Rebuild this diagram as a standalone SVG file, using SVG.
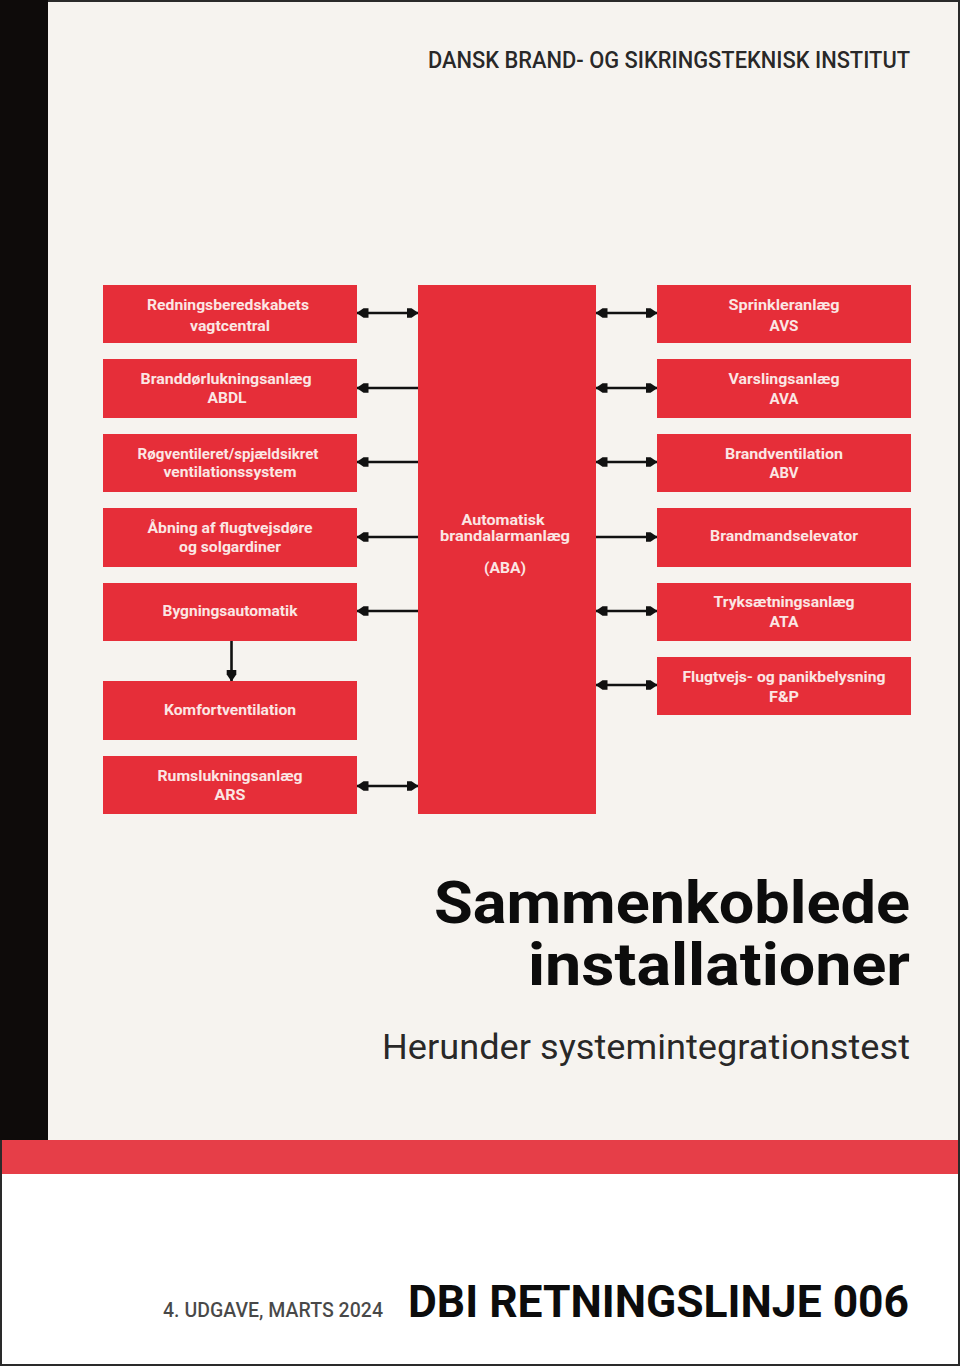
<svg xmlns="http://www.w3.org/2000/svg" width="960" height="1366" viewBox="0 0 960 1366">
<defs>
<marker id="ah" viewBox="0 0 12 12" refX="11.5" refY="6" markerWidth="12" markerHeight="12" markerUnits="userSpaceOnUse" orient="auto-start-reverse"><path d="M0 1.2L5 1.2L12 6L5 10.8L0 10.8Z" fill="#111"/></marker>
</defs>
<style>
.n{fill:#e62e39}
.l{font:700 14px Roboto,"Liberation Sans",sans-serif;fill:#fbe6e4;text-anchor:middle}
.c{fill:none;stroke:#111;stroke-width:2.6}
.b{marker-start:url(#ah);marker-end:url(#ah)}
.e{marker-end:url(#ah)}
.h{font-family:Roboto,"Liberation Sans",sans-serif;text-anchor:end;fill:#0c0c0c}
</style>
<rect width="960" height="1366" fill="#2a2a2a"/>
<rect x="2" y="2" width="956" height="1362" fill="#fff"/>
<rect x="48" y="2" width="910" height="1138" fill="#f6f3ef"/>
<rect x="0" y="0" width="48" height="1140" fill="#0e0b0a"/>
<rect x="2" y="1140" width="956" height="34" fill="#e63e48"/>
<text class="h" x="910" y="68" font-size="23" font-weight="500" textLength="482" lengthAdjust="spacingAndGlyphs" fill-opacity="0.9">DANSK BRAND- OG SIKRINGSTEKNISK INSTITUT</text>
<text class="h" font-size="60" font-weight="700"><tspan x="910" y="923" textLength="476" lengthAdjust="spacingAndGlyphs">Sammenkoblede</tspan><tspan x="910" y="985" textLength="382" lengthAdjust="spacingAndGlyphs">installationer</tspan></text>
<text class="h" x="910" y="1059" font-size="35" font-weight="400" textLength="528" lengthAdjust="spacingAndGlyphs" fill-opacity="0.9">Herunder systemintegrationstest</text>
<text class="h" x="383" y="1317" font-size="20" font-weight="500" textLength="220" lengthAdjust="spacingAndGlyphs" fill-opacity="0.75">4. UDGAVE, MARTS 2024</text>
<text class="h" x="909" y="1317" font-size="44" font-weight="700" textLength="501" lengthAdjust="spacingAndGlyphs">DBI RETNINGSLINJE 006</text>
<g id="connectors">
<path class="c b" d="M357 313H418"/>
<path class="c e" d="M418 388H357"/>
<path class="c e" d="M418 462H357"/>
<path class="c e" d="M418 537H357"/>
<path class="c e" d="M418 611H357"/>
<path class="c e" d="M231.500 641V681"/>
<path class="c b" d="M357 786H418"/>
<path class="c b" d="M596 313H657"/>
<path class="c b" d="M596 388H657"/>
<path class="c b" d="M596 462H657"/>
<path class="c e" d="M596 537H657"/>
<path class="c b" d="M596 611H657"/>
<path class="c b" d="M596 685H657"/>
</g>
<g id="n-rednings"><rect class="n" x="103" y="285" width="254" height="58"/><text class="l" x="228" y="310" textLength="162" lengthAdjust="spacingAndGlyphs">Redningsberedskabets</text><text class="l" x="230" y="331" textLength="80" lengthAdjust="spacingAndGlyphs">vagtcentral</text></g>
<g id="n-abdl"><rect class="n" x="103" y="359" width="254" height="59"/><text class="l" x="226" y="384" textLength="171" lengthAdjust="spacingAndGlyphs">Branddørlukningsanlæg</text><text class="l" x="227" y="403" textLength="39" lengthAdjust="spacingAndGlyphs">ABDL</text></g>
<g id="n-roeg"><rect class="n" x="103" y="434" width="254" height="58"/><text class="l" x="228" y="459" textLength="181" lengthAdjust="spacingAndGlyphs">Røgventileret/spjældsikret</text><text class="l" x="230" y="477" textLength="133" lengthAdjust="spacingAndGlyphs">ventilationssystem</text></g>
<g id="n-aabning"><rect class="n" x="103" y="508" width="254" height="59"/><text class="l" x="230" y="533" textLength="165" lengthAdjust="spacingAndGlyphs">Åbning af flugtvejsdøre</text><text class="l" x="230" y="552" textLength="102" lengthAdjust="spacingAndGlyphs">og solgardiner</text></g>
<g id="n-bygning"><rect class="n" x="103" y="583" width="254" height="58"/><text class="l" x="230" y="616" textLength="135" lengthAdjust="spacingAndGlyphs">Bygningsautomatik</text></g>
<g id="n-komfort"><rect class="n" x="103" y="681" width="254" height="59"/><text class="l" x="230" y="715" textLength="132" lengthAdjust="spacingAndGlyphs">Komfortventilation</text></g>
<g id="n-ars"><rect class="n" x="103" y="756" width="254" height="58"/><text class="l" x="230" y="781" textLength="145" lengthAdjust="spacingAndGlyphs">Rumslukningsanlæg</text><text class="l" x="230" y="800" textLength="31" lengthAdjust="spacingAndGlyphs">ARS</text></g>
<g id="n-aba"><rect class="n" x="418" y="285" width="178" height="529"/><text class="l" x="503" y="525" textLength="83" lengthAdjust="spacingAndGlyphs">Automatisk</text><text class="l" x="505" y="541" textLength="130" lengthAdjust="spacingAndGlyphs">brandalarmanlæg</text><text class="l" x="505" y="573" textLength="42" lengthAdjust="spacingAndGlyphs">(ABA)</text></g>
<g id="n-avs"><rect class="n" x="657" y="285" width="254" height="58"/><text class="l" x="784" y="310" textLength="111" lengthAdjust="spacingAndGlyphs">Sprinkleranlæg</text><text class="l" x="784" y="331" textLength="29" lengthAdjust="spacingAndGlyphs">AVS</text></g>
<g id="n-ava"><rect class="n" x="657" y="359" width="254" height="59"/><text class="l" x="784" y="384" textLength="111" lengthAdjust="spacingAndGlyphs">Varslingsanlæg</text><text class="l" x="784" y="404" textLength="29" lengthAdjust="spacingAndGlyphs">AVA</text></g>
<g id="n-abv"><rect class="n" x="657" y="434" width="254" height="58"/><text class="l" x="784" y="459" textLength="118" lengthAdjust="spacingAndGlyphs">Brandventilation</text><text class="l" x="784" y="478" textLength="29" lengthAdjust="spacingAndGlyphs">ABV</text></g>
<g id="n-elev"><rect class="n" x="657" y="508" width="254" height="59"/><text class="l" x="784" y="541" textLength="148" lengthAdjust="spacingAndGlyphs">Brandmandselevator</text></g>
<g id="n-ata"><rect class="n" x="657" y="583" width="254" height="58"/><text class="l" x="784" y="607" textLength="141" lengthAdjust="spacingAndGlyphs">Tryksætningsanlæg</text><text class="l" x="784" y="627" textLength="29" lengthAdjust="spacingAndGlyphs">ATA</text></g>
<g id="n-fp"><rect class="n" x="657" y="657" width="254" height="58"/><text class="l" x="784" y="682" textLength="203" lengthAdjust="spacingAndGlyphs">Flugtvejs- og panikbelysning</text><text class="l" x="784" y="702" textLength="30" lengthAdjust="spacingAndGlyphs">F&amp;P</text></g>
</svg>
